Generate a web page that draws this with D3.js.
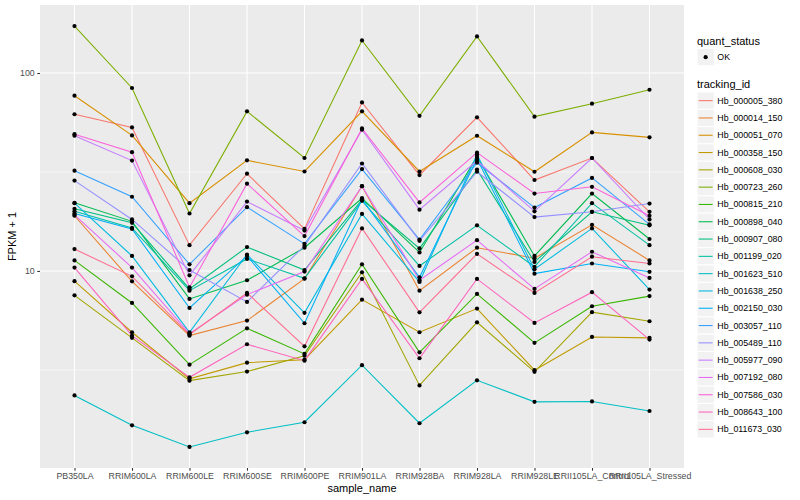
<!DOCTYPE html>
<html>
<head>
<meta charset="utf-8">
<script src="https://cdn.jsdelivr.net/npm/d3@7"></script>
<style>
  body { margin: 0; background: #fff; }
  text { font-family: "Liberation Sans", Arial, sans-serif; }
</style>
</head>
<body>
<svg id="chart" width="800" height="500"></svg>
<script>
// samples on the x axis
const samples = ["PB350LA", "RRIM600LA", "RRIM600LE", "RRIM600SE", "RRIM600PE", "RRIM901LA",
  "RRIM928BA", "RRIM928LA", "RRIM928LE", "RRII105LA_Control", "RRII105LA_Stressed"];

const trackingIds = ["Hb_000005_380", "Hb_000014_150", "Hb_000051_070", "Hb_000358_150", "Hb_000608_030",
  "Hb_000723_260", "Hb_000815_210", "Hb_000898_040", "Hb_000907_080", "Hb_001199_020",
  "Hb_001623_510", "Hb_001638_250", "Hb_002150_030", "Hb_003057_110", "Hb_005489_110",
  "Hb_005977_090", "Hb_007192_080", "Hb_007586_030", "Hb_008643_100", "Hb_011673_030"];

// FPKM + 1, one array per tracking_id, in sample order
const Hb_000005_380 = [61.9, 53.1, 13.5, 31.0, 16.3, 71.0, 30.5, 59.7, 28.8, 37.2, 19.9];
const Hb_000014_150 = [19.0, 8.86, 4.71, 5.61, 9.14, 26.8, 7.95, 13.1, 11.6, 17.1, 11.3];
const Hb_000051_070 = [76.8, 48.4, 22.0, 36.2, 31.8, 64.0, 31.8, 48.2, 31.7, 50.1, 47.3];
const Hb_000358_150 = [8.88, 4.90, 2.85, 3.44, 3.56, 7.16, 4.90, 6.45, 3.15, 4.64, 4.59];
const Hb_000608_030 = [7.53, 4.59, 2.79, 3.10, 3.73, 9.84, 2.64, 5.50, 3.09, 6.19, 5.57];
const Hb_000723_260 = [172.7, 84.0, 19.5, 64.0, 37.2, 146.1, 60.8, 153.0, 60.2, 70.0, 82.3];
const Hb_000815_210 = [11.3, 6.89, 3.36, 5.13, 3.81, 10.8, 3.88, 7.65, 4.33, 6.63, 7.46];
const Hb_000898_040 = [22.1, 17.8, 7.22, 8.97, 13.1, 23.3, 12.4, 37.8, 11.9, 24.6, 14.5];
const Hb_000907_080 = [20.6, 17.5, 8.11, 13.2, 10.1, 22.9, 13.0, 32.5, 11.1, 19.9, 17.0];
const Hb_001199_020 = [20.0, 16.5, 7.95, 11.5, 9.18, 22.6, 10.6, 17.0, 10.5, 22.0, 13.5];
const Hb_001623_510 = [2.35, 1.66, 1.29, 1.53, 1.72, 3.34, 1.70, 2.80, 2.18, 2.19, 1.96];
const Hb_001638_250 = [22.0, 11.9, 4.90, 12.1, 6.14, 19.4, 8.80, 38.7, 10.2, 16.4, 8.05];
const Hb_002150_030 = [19.5, 16.3, 6.50, 11.9, 5.44, 23.0, 9.28, 36.9, 9.69, 10.9, 9.90];
const Hb_003057_110 = [32.1, 23.7, 10.8, 21.0, 13.7, 32.7, 14.4, 35.2, 20.9, 29.5, 17.2];
const Hb_005489_110 = [28.6, 18.2, 10.1, 6.97, 13.4, 34.9, 14.2, 31.7, 18.7, 19.9, 21.9];
const Hb_005977_090 = [48.2, 36.1, 9.50, 22.4, 16.0, 51.7, 20.4, 36.0, 20.0, 37.2, 18.2];
const Hb_007192_080 = [19.2, 10.4, 4.82, 7.59, 9.92, 26.8, 8.97, 14.3, 8.11, 12.5, 9.22];
const Hb_007586_030 = [49.1, 39.8, 8.27, 27.6, 15.0, 52.5, 22.2, 39.6, 24.6, 26.6, 19.0];
const Hb_008643_100 = [10.4, 4.71, 2.90, 4.26, 3.52, 9.11, 3.62, 9.11, 5.46, 7.81, 4.50];
const Hb_011673_030 = [12.9, 9.39, 4.77, 7.74, 4.16, 16.4, 6.18, 12.2, 7.74, 11.8, 10.9];

const seriesValues = [Hb_000005_380, Hb_000014_150, Hb_000051_070, Hb_000358_150, Hb_000608_030,
  Hb_000723_260, Hb_000815_210, Hb_000898_040, Hb_000907_080, Hb_001199_020,
  Hb_001623_510, Hb_001638_250, Hb_002150_030, Hb_003057_110, Hb_005489_110,
  Hb_005977_090, Hb_007192_080, Hb_007586_030, Hb_008643_100, Hb_011673_030];

const quantStatus = ["OK"];
const yTicks = [10, 100];

// ggplot hue palette for 20 levels
const hueColors = ["#F8766D", "#EA8331", "#D89000", "#C09B00", "#A3A500", "#7CAE00", "#39B600",
  "#00BB4E", "#00BF7D", "#00C1A3", "#00BFC4", "#00BAE0", "#00B0F6", "#35A2FF", "#9590FF",
  "#C77CFF", "#E76BF3", "#FA62DB", "#FF62BC", "#FF6C91"];

const series = trackingIds.map((id, i) => ({
  id: id,
  points: samples.map((s, j) => ({ sample: s, value: seriesValues[i][j] }))
}));

const panel = { left: 40, right: 684, top: 5, bottom: 468 };
const svg = d3.select("#chart");

const x = d3.scalePoint().domain(samples).range([panel.left, panel.right]).padding(0.6);

// log scale with ggplot's 5% expansion in log space
const allValues = seriesValues.flat();
const lo = Math.log10(d3.min(allValues)), hi = Math.log10(d3.max(allValues));
const pad = (hi - lo) * 0.05;
const y = d3.scaleLog().domain([Math.pow(10, lo - pad), Math.pow(10, hi + pad)]).range([panel.bottom, panel.top]);

const color = d3.scaleOrdinal().domain(trackingIds).range(hueColors);

// panel background
svg.append("rect")
  .attr("x", panel.left).attr("y", panel.top)
  .attr("width", panel.right - panel.left).attr("height", panel.bottom - panel.top)
  .attr("fill", "#EBEBEB");

// minor grid: halfway between decades
const minorTicks = [Math.sqrt(10), Math.sqrt(1000), Math.sqrt(100000)].filter(v => v > y.domain()[0] && v < y.domain()[1]);
svg.append("g").selectAll("line").data(minorTicks).enter().append("line")
  .attr("x1", panel.left).attr("x2", panel.right)
  .attr("y1", d => y(d)).attr("y2", d => y(d))
  .attr("stroke", "#fff").attr("stroke-width", 0.55);

svg.append("g").selectAll("line").data(yTicks).enter().append("line")
  .attr("x1", panel.left).attr("x2", panel.right)
  .attr("y1", d => y(d)).attr("y2", d => y(d))
  .attr("stroke", "#fff").attr("stroke-width", 1.1);

svg.append("g").selectAll("line").data(samples).enter().append("line")
  .attr("x1", d => x(d)).attr("x2", d => x(d))
  .attr("y1", panel.top).attr("y2", panel.bottom)
  .attr("stroke", "#fff").attr("stroke-width", 1.1);

// lines
const line = d3.line().x(d => x(d.sample)).y(d => y(d.value));
svg.append("g").selectAll("path").data(series).enter().append("path")
  .attr("d", d => line(d.points))
  .attr("fill", "none")
  .attr("stroke", d => color(d.id))
  .attr("stroke-width", 1.07);

// points (quant_status = OK)
svg.append("g").selectAll("circle").data(series.flatMap(s => s.points)).enter().append("circle")
  .attr("cx", d => x(d.sample)).attr("cy", d => y(d.value))
  .attr("r", 2.1).attr("fill", "#000");

// axes
const xAxis = d3.axisBottom(x).tickSize(2.75).tickPadding(2.5);
const gx = svg.append("g").attr("transform", `translate(0,${panel.bottom})`).call(xAxis);
const yAxis = d3.axisLeft(y).tickValues(yTicks).tickFormat(d3.format("d")).tickSize(2.75).tickPadding(2.5);
const gy = svg.append("g").attr("transform", `translate(${panel.left},0)`).call(yAxis);
[gx, gy].forEach(g => {
  g.select(".domain").remove();
  g.selectAll(".tick line").attr("stroke", "#333333").attr("stroke-width", 1.07);
  g.selectAll(".tick text").attr("fill", "#4D4D4D").style("font-size", "8.8px")
    .style("font-family", "Liberation Sans, Arial, sans-serif");
});

svg.append("text")
  .attr("x", (panel.left + panel.right) / 2).attr("y", 492)
  .attr("text-anchor", "middle").style("font-size", "11px").attr("fill", "#000")
  .text("sample_name");
svg.append("text")
  .attr("transform", `translate(16,${(panel.top + panel.bottom) / 2}) rotate(-90)`)
  .attr("text-anchor", "middle").style("font-size", "11px").attr("fill", "#000")
  .text("FPKM + 1");

// legends
const lg = svg.append("g").attr("transform", "translate(697,0)");
const keySize = 17.3;

lg.append("text").attr("x", 0).attr("y", 44.5).style("font-size", "11px").text("quant_status");
const qk = lg.selectAll(".qk").data(quantStatus).enter().append("g")
  .attr("transform", (d, i) => `translate(0,${48.5 + i * keySize})`);
qk.append("rect").attr("width", keySize).attr("height", keySize).attr("fill", "#F2F2F2").attr("stroke", "#fff");
qk.append("circle").attr("cx", keySize / 2).attr("cy", keySize / 2).attr("r", 2.1).attr("fill", "#000");
qk.append("text").attr("x", keySize + 3).attr("y", keySize / 2 + 3).style("font-size", "8.8px").text(d => d);

lg.append("text").attr("x", 0).attr("y", 88).style("font-size", "11px").text("tracking_id");
const tk = lg.selectAll(".tk").data(trackingIds).enter().append("g")
  .attr("transform", (d, i) => `translate(0,${92 + i * keySize})`);
tk.append("rect").attr("width", keySize).attr("height", keySize).attr("fill", "#F2F2F2").attr("stroke", "#fff");
tk.append("line").attr("x1", 1.7).attr("x2", keySize - 1.7)
  .attr("y1", keySize / 2).attr("y2", keySize / 2)
  .attr("stroke", d => color(d)).attr("stroke-width", 1.07);
tk.append("text").attr("x", keySize + 3).attr("y", keySize / 2 + 3).style("font-size", "8.8px").text(d => d);
</script>
</body>
</html>
